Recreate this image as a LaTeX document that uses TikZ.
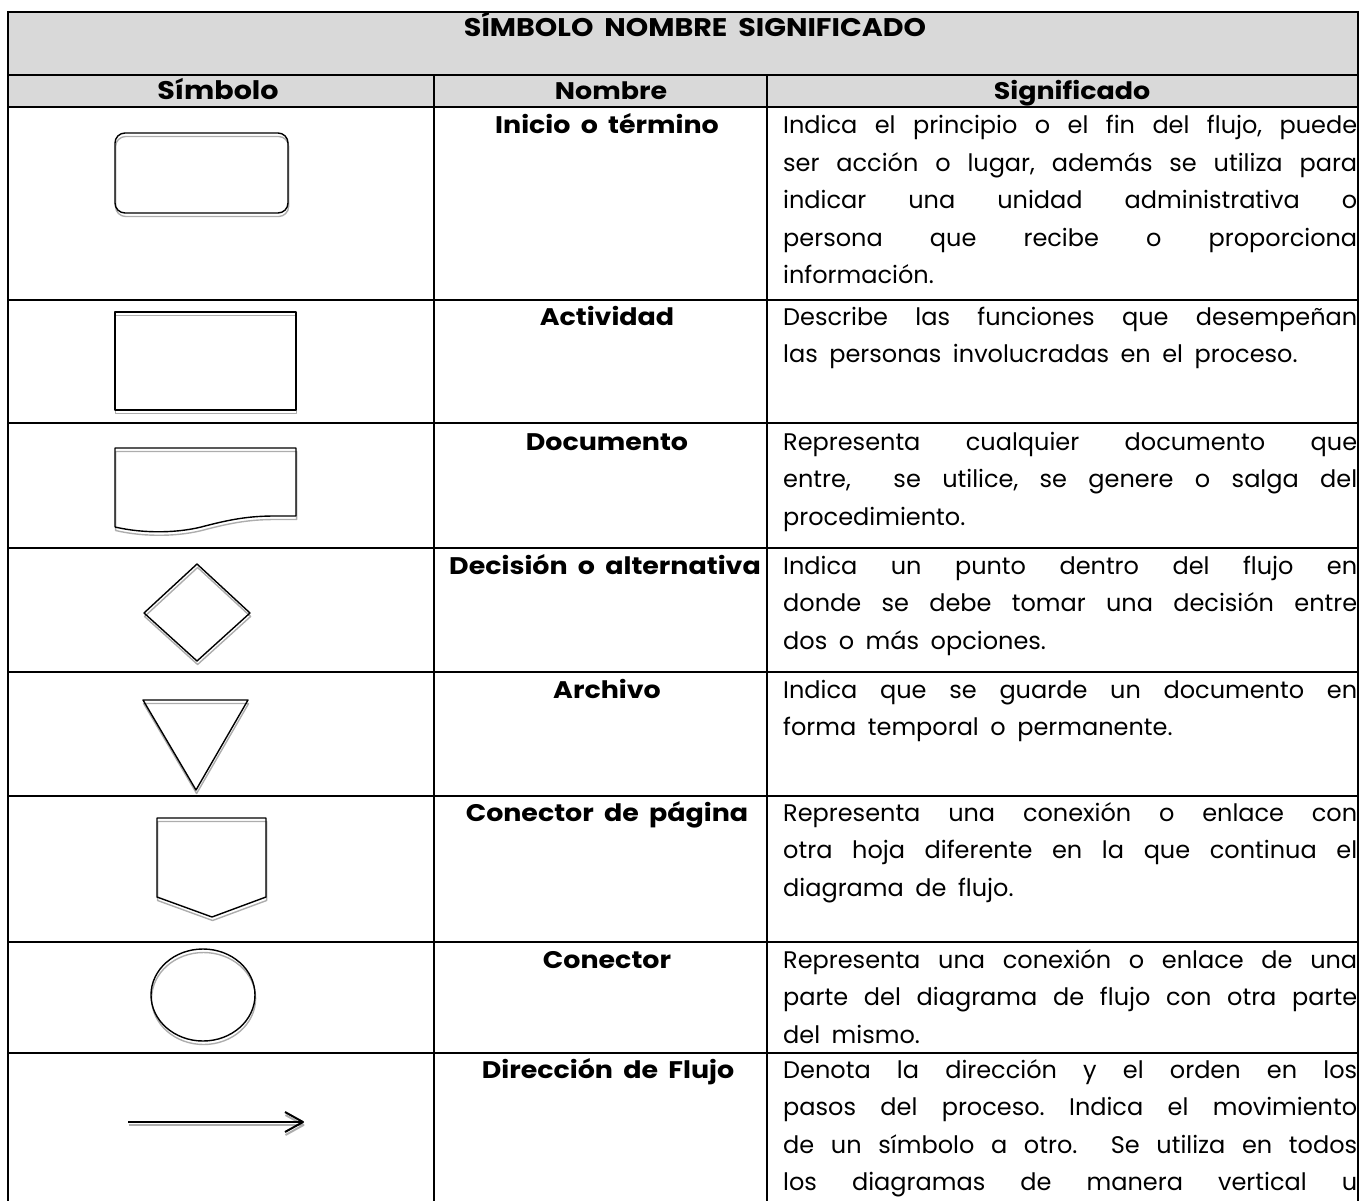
\documentclass[tikz,border=0pt]{standalone}
\usepackage{fontspec}
\setmainfont{Poppins}[WordSpace=1.8, BoldFeatures={FakeStretch=1.12}]
\usetikzlibrary{arrows.meta}
\frenchspacing
\newcommand\jline[1]{\makebox[574pt][s]{#1}\par}
\newcommand\pline[1]{#1\par}
\newcommand\sigtext[1]{\begin{minipage}[t]{574pt}\parindent=0pt\frenchspacing\fontsize{24}{37.5}\selectfont #1\end{minipage}}
\tikzset{
  gridline/.style={line width=2pt, black},
  hdrfill/.style={fill=black!15},
  shad/.style={draw=black!32, line width=1.4pt, line join=round},
  blk/.style={draw=black, line width=1.4pt, line join=round},
  ttlstyle/.style={font={\bfseries\fontsize{24}{28}\selectfont}, inner sep=0pt, anchor=base},
  nmstyle/.style={font={\bfseries\fontsize{24}{28}\selectfont}, inner sep=0pt, anchor=base},
  sigstyle/.style={inner sep=0pt, anchor=base west},
}
\newcommand\shadowed[1]{\draw[shad, shift={(0.6,3.5)}] #1; \draw[blk] #1;}
\begin{document}
\begin{tikzpicture}[x=1pt,y=-1pt]
\useasboundingbox (0,0) rectangle (1364,1201);
% header fill
\fill[hdrfill] (8,12) rectangle (1358,107);
% grid
\foreach \yy in {12,75,107,300,423,548,672,796,942,1053}
  \draw[gridline] (8,\yy) -- (1358,\yy);
\draw[gridline] (8,11) -- (8,1201);
\draw[gridline] (1358,11) -- (1358,1201);
\draw[gridline] (434,75) -- (434,1201);
\draw[gridline] (767,75) -- (767,1201);
% titles
\node[ttlstyle, font={\bfseries\fontsize{25.5}{28}\selectfont}] (t0) at (695,37) {SÍMBOLO NOMBRE SIGNIFICADO};
\node[ttlstyle, font={\bfseries\fontsize{25.5}{28}\selectfont}] (t1) at (218,100) {Símbolo};
\node[ttlstyle] (t2) at (611,100) {Nombre};
\node[ttlstyle] (t3) at (1072,100) {Significado};
% names
\node[nmstyle] (n1) at (607,134) {Inicio o término};
\node[nmstyle] (n2) at (607,325) {Actividad};
\node[nmstyle] (n3) at (607,450) {Documento};
\node[nmstyle] (n4) at (605,574) {Decisión o alternativa};
\node[nmstyle] (n5) at (607,698) {Archivo};
\node[nmstyle] (n6) at (607,821) {Conector de página};
\node[nmstyle] (n7) at (607,968) {Conector};
\node[nmstyle] (n8) at (608,1078) {Dirección de Flujo};
% meanings
\node[sigstyle] (s1) at (783,134) {\sigtext{%
\jline{Indica el principio o el fin del flujo, puede}
\jline{ser acción o lugar, además se utiliza para}
\jline{indicar una unidad administrativa o}
\jline{persona que recibe o proporciona}
\pline{información.}}};
\node[sigstyle] (s2) at (783,325) {\sigtext{%
\jline{Describe las funciones que desempeñan}
\pline{las personas involucradas en el proceso.}}};
\node[sigstyle] (s3) at (783,450) {\sigtext{%
\jline{Representa cualquier documento que}
\jline{entre,\ \ se utilice, se genere o salga del}
\pline{procedimiento.}}};
\node[sigstyle] (s4) at (783,574) {\sigtext{%
\jline{Indica un punto dentro del flujo en}
\jline{donde se debe tomar una decisión entre}
\pline{dos o más opciones.}}};
\node[sigstyle] (s5) at (783,698) {\sigtext{%
\jline{Indica que se guarde un documento en}
\pline{forma temporal o permanente.}}};
\node[sigstyle] (s6) at (783,821) {\sigtext{%
\jline{Representa una conexión o enlace con}
\jline{otra hoja diferente en la que continua el}
\pline{diagrama de flujo.}}};
\node[sigstyle] (s7) at (783,968) {\sigtext{%
\jline{Representa una conexión o enlace de una}
\jline{parte del diagrama de flujo con otra parte}
\pline{del mismo.}}};
\node[sigstyle] (s8) at (783,1078) {\sigtext{%
\jline{Denota la dirección y el orden en los}
\jline{pasos del proceso. Indica el movimiento}
\jline{de un símbolo a otro.\ \ Se utiliza en todos}
\jline{los diagramas de manera vertical u}}};
% symbols
\shadowed{[rounded corners=10pt] (115,133) rectangle (288,213)}
\shadowed{(115,312) rectangle (296,410)}
\shadowed{(115,527) -- (115,448) -- (296,448) -- (296,516) -- (275,516) .. controls (250,516) and (232,519) .. (205,526) .. controls (180,533) and (145,534) .. (115,527)}
\shadowed{(197,564) -- (250,613) -- (197,661) -- (144,613) -- cycle}
\shadowed{(143,700) -- (248,700) -- (196,790) -- cycle}
\shadowed{(157,818) -- (266,818) -- (266,897) -- (212,917) -- (157,897) -- cycle}
\shadowed{(203,995) ellipse [x radius=52, y radius=46]}
\draw[shad, line width=2pt, shift={(0.5,3)}] (128,1122) -- (302,1122);
\draw[shad, line width=2pt, shift={(0.5,3)}] (285,1112) -- (303,1122) -- (285,1132);
\draw[blk, line width=2pt] (128,1122) -- (302,1122);
\draw[blk, line width=2pt] (285,1112) -- (303,1122) -- (285,1132);
\end{tikzpicture}
\end{document}
